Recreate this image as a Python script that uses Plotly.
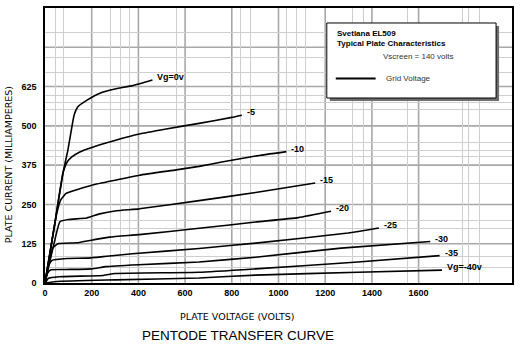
import plotly.graph_objects as go

# Plate characteristics of the EL509 pentode (Vscreen = 140 V)
grid_labels = ["Vg=0v", "-5", "-10", "-15", "-20", "-25", "-30", "-35", "Vg=-40v"]

plate_v = [
    [0, 40, 77, 98, 115, 125, 140, 180, 235, 305, 375, 460],
    [0, 40, 77, 95, 115, 149, 204, 306, 404, 519, 660, 800, 843],
    [0, 50, 68, 90, 136, 204, 306, 404, 562, 660, 757, 902, 1034],
    [0, 40, 64, 100, 179, 234, 306, 404, 660, 902, 1157],
    [0, 20, 34, 55, 136, 204, 277, 404, 660, 902, 1085, 1225],
    [0, 15, 30, 94, 179, 264, 374, 660, 902, 1298, 1430],
    [0, 10, 25, 90, 200, 260, 400, 660, 902, 1268, 1650],
    [0, 15, 60, 250, 300, 660, 902, 1340, 1690],
    [0, 50, 300, 660, 902, 1340, 1700],
]
plate_ma = [
    [0, 180, 350, 423, 496, 535, 560, 582, 604, 618, 628, 646],
    [0, 180, 350, 385, 401, 417, 432, 455, 474, 490, 508, 527, 534],
    [0, 220, 265, 285, 297, 312, 328, 343, 360, 371, 385, 404, 418],
    [0, 130, 195, 202, 207, 220, 230, 236, 262, 288, 318],
    [0, 75, 112, 125, 128, 137, 146, 154, 174, 194, 208, 228],
    [0, 55, 72, 78, 79, 85, 93, 110, 127, 159, 175],
    [0, 30, 42, 43, 45, 52, 58, 67, 82, 111, 132],
    [0, 15, 20, 24, 30, 34, 45, 67, 87],
    [0, 5, 10, 16, 25, 34, 41],
]

x_ticks = [0, 200, 400, 600, 800, 1000, 1200, 1400, 1600]
y_ticks = [0, 125, 250, 375, 500, 625]
x_major_grid = [200, 400, 600, 800, 1000, 1200, 1400, 1600]
y_major_grid = [125, 250, 375, 500, 625, 750]
x_minor_grid = [47, 81, 281, 323, 362, 562, 838, 881, 1034, 1077, 1115,
                1319, 1362, 1553, 1787, 1813, 1860]
y_minor_grid = [48, 83, 175, 200, 318, 401, 423, 448, 553, 573, 598, 671,
                719, 798]

BOLD = "Liberation Sans, Arial, sans-serif"
PLAIN = "Liberation Sans, Arial, sans-serif"
WIDE = "DejaVu Sans, Verdana, sans-serif"

fig = go.Figure()
for xs, ys, lab in zip(plate_v, plate_ma, grid_labels):
    fig.add_trace(go.Scatter(x=xs, y=ys, mode="lines", name=lab,
                             line=dict(color="black", width=1.6, shape="spline",
                                       smoothing=0.4),
                             hoverinfo="skip", showlegend=False))
    fig.add_annotation(x=xs[-1], y=ys[-1], text="<b>" + lab + "</b>",
                       showarrow=False, xanchor="left", yanchor="bottom",
                       xshift=3, yshift=-4,
                       font=dict(family=BOLD, size=9, color="black"))

fig.update_xaxes(range=[0, 2000], tickmode="array", tickvals=x_ticks,
                 ticktext=[f"<b>{v}</b>" for v in x_ticks],
                 showgrid=False, zeroline=False,
                 showline=True, linecolor="black", linewidth=1.5, mirror=True,
                 ticks="", tickfont=dict(family=BOLD, size=9, color="black"),
                 minor=dict(tickmode="array", tickvals=x_minor_grid,
                            showgrid=True, gridcolor="#cfcfcf", gridwidth=1))
fig.update_yaxes(range=[0, 875], tickmode="array", tickvals=y_ticks,
                 ticktext=[f"<b>{v}</b>" for v in y_ticks],
                 showgrid=False, zeroline=False,
                 showline=True, linecolor="black", linewidth=1.5, mirror=True,
                 ticks="", ticklabelstandoff=5,
                 tickfont=dict(family=BOLD, size=9, color="black"),
                 minor=dict(tickmode="array", tickvals=y_minor_grid,
                            showgrid=True, gridcolor="#cfcfcf", gridwidth=1))

shapes = []
for v in x_major_grid:
    shapes.append(dict(type="line", xref="x", yref="paper", x0=v, x1=v, y0=0, y1=1,
                       line=dict(color="#a8a8a8", width=1.6), layer="below"))
for v in y_major_grid:
    shapes.append(dict(type="line", xref="paper", yref="paper", x0=0, x1=1,
                       y0=v / 875, y1=v / 875,
                       line=dict(color="#a8a8a8", width=1.6), layer="below"))

# legend box with drop shadow
shapes.append(dict(type="rect", xref="paper", yref="paper",
                   x0=0.6098, x1=0.9723, y0=0.662, y1=0.935,
                   fillcolor="#6e6e6e", line=dict(width=0), layer="above"))
shapes.append(dict(type="rect", xref="paper", yref="paper",
                   x0=0.6034, x1=0.9659, y0=0.6727, y1=0.9455,
                   fillcolor="white", line=dict(color="black", width=1), layer="above"))
shapes.append(dict(type="line", xref="paper", yref="paper",
                   x0=0.6226, x1=0.708, y0=0.744, y1=0.744,
                   line=dict(color="black", width=2), layer="above"))
fig.update_layout(shapes=shapes)

fig.add_annotation(xref="paper", yref="paper", x=0.621, y=0.93,
                   text="<b>Svetlana EL509<br>Typical Plate Characteristics</b>",
                   showarrow=False, xanchor="left", yanchor="top", align="left",
                   font=dict(family=BOLD, size=8, color="black"))
fig.add_annotation(xref="paper", yref="paper", x=0.719, y=0.822,
                   text="Vscreen = 140 volts", showarrow=False,
                   xanchor="left", yanchor="middle",
                   font=dict(family=PLAIN, size=8, color="#333"))
fig.add_annotation(xref="paper", yref="paper", x=0.726, y=0.742,
                   text="Grid Voltage", showarrow=False,
                   xanchor="left", yanchor="middle",
                   font=dict(family=PLAIN, size=8, color="#333"))

# axis titles and caption
fig.add_annotation(xref="paper", yref="paper", x=-0.078, y=0.43,
                   text="PLATE CURRENT (MILLIAMPERES)", textangle=-90,
                   showarrow=False, xanchor="center", yanchor="middle",
                   font=dict(family=WIDE, size=9.5, color="black"))
fig.add_annotation(xref="paper", yref="paper", x=0.411, y=-0.12,
                   text="PLATE VOLTAGE (VOLTS)", showarrow=False,
                   xanchor="center", yanchor="middle",
                   font=dict(family=WIDE, size=9.5, color="black"))
fig.add_annotation(xref="paper", yref="paper", x=0.413, y=-0.19,
                   text="PENTODE TRANSFER CURVE", showarrow=False,
                   xanchor="center", yanchor="middle",
                   font=dict(family=PLAIN, size=13.5, color="black"))

fig.update_layout(width=520, height=346,
                  margin=dict(l=45, r=6, t=8, b=63),
                  paper_bgcolor="white", plot_bgcolor="white",
                  showlegend=False)

fig.write_html("out.html")
